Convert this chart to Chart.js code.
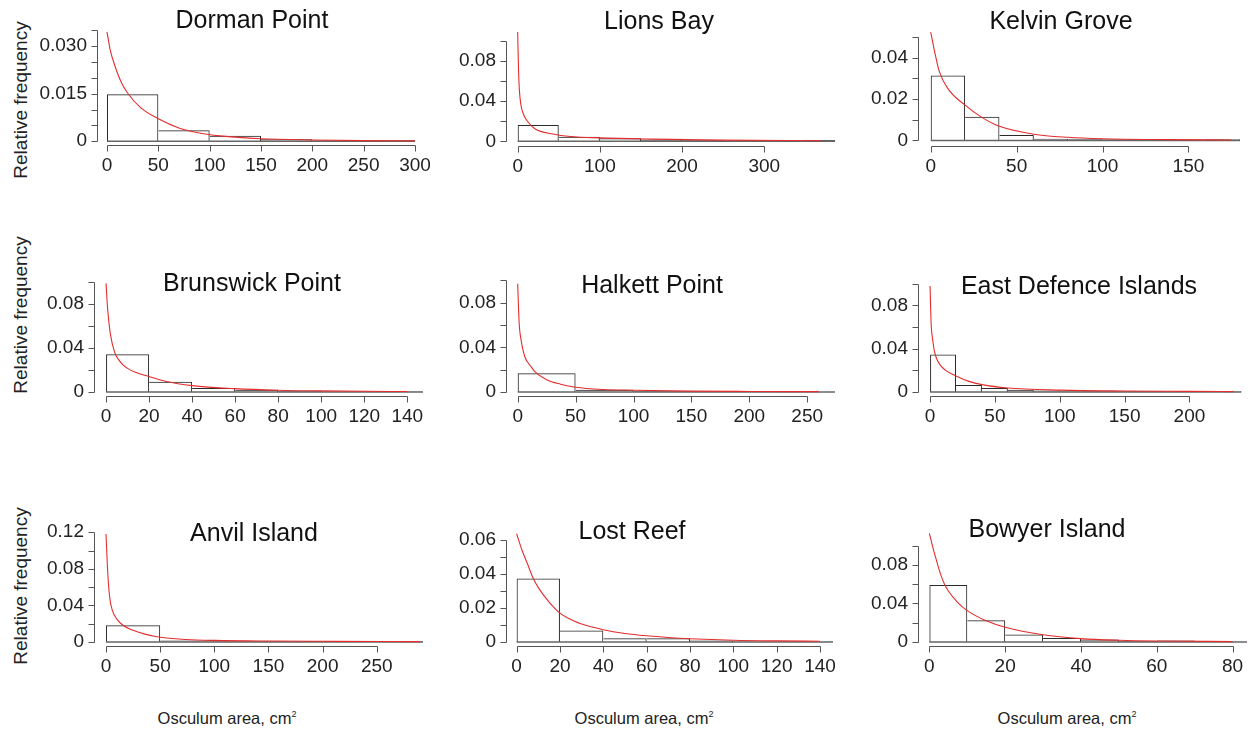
<!DOCTYPE html>
<html>
<head>
<meta charset="utf-8">
<script src="https://cdn.jsdelivr.net/npm/chart.js@4/dist/chart.umd.min.js"></script>
<style>
  body { margin: 0; width: 1255px; height: 733px; position: relative; background: #fff; overflow: hidden;
         font-family: "Liberation Sans", Arial, Helvetica, sans-serif; color: #111; }
  canvas { position: absolute; }
  .title { position: absolute; font-size: 25px; line-height: 25px; transform: translateX(-50%); white-space: nowrap; }
  .ylab { position: absolute; font-size: 19px; line-height: 19px; transform: translate(-50%, -50%) rotate(-90deg); white-space: nowrap; color: #222; }
  .xlab { position: absolute; font-size: 16.5px; line-height: 17px; transform: translateX(-50%); white-space: nowrap; color: #222; }
  .xlab sup { font-size: 9px; vertical-align: 7px; line-height: 0; }
</style>
</head>
<body>
<script>
// Histogram bins (edges), relative frequencies and fitted curve.
const dormanEdges = [0, 50, 100, 150, 200, 250, 300];
const dormanFreq = [0.0148, 0.0035, 0.0017, 0.0006, 0.0002, 0.0003];
const dormanCurveX = [0, 3, 8, 14, 20, 33, 50, 70, 90, 110, 150, 200, 250, 300];
const dormanCurveY = [0.0345, 0.029, 0.0235, 0.0185, 0.0152, 0.0105, 0.0071, 0.0042, 0.0026, 0.0017, 0.0008, 0.0004, 0.0002, 0.0001];
const dormanXTicks = [0, 50, 100, 150, 200, 250, 300];
const dormanYTicks = [0, 0.005, 0.01, 0.015, 0.02, 0.025, 0.03, 0.035];
const dormanYLabels = ['0', '', '', '0.015', '', '', '0.030', ''];

const lionsEdges = [0, 50, 100, 150, 200, 250, 300, 350, 400];
const lionsFreq = [0.0163, 0.0045, 0.003, 0.0018, 0.0016, 0.001, 0.0005, 0.0012];
const lionsCurveX = [0, 1, 2, 4, 7, 11, 21, 43, 64, 100, 165, 246, 370];
const lionsCurveY = [0.109, 0.072, 0.052, 0.036, 0.027, 0.021, 0.0125, 0.0072, 0.0047, 0.0034, 0.0022, 0.0012, 0.0006];
const lionsXTicks = [0, 100, 200, 300];
const lionsYTicks = [0, 0.02, 0.04, 0.06, 0.08, 0.1];
const lionsYLabels = ['0', '', '0.04', '', '0.08', ''];

const kelvinEdges = [0, 20, 40, 60, 80, 100, 120, 140, 160, 180];
const kelvinFreq = [0.0314, 0.0114, 0.0026, 0.0008, 0.0008, 0.0006, 0.0006, 0.0002, 0.0006];
const kelvinCurveX = [0, 2, 5, 10, 20, 30, 40, 60, 80, 100, 140, 175];
const kelvinCurveY = [0.0523, 0.044, 0.0333, 0.025, 0.017, 0.011, 0.0068, 0.003, 0.0015, 0.0008, 0.0004, 0.0002];
const kelvinXTicks = [0, 50, 100, 150];
const kelvinYTicks = [0, 0.01, 0.02, 0.03, 0.04, 0.05];
const kelvinYLabels = ['0', '', '0.02', '', '0.04', ''];

const brunswickEdges = [0, 20, 40, 60, 80, 100, 120, 140, 160];
const brunswickFreq = [0.0343, 0.0094, 0.0037, 0.002, 0.0008, 0.0005, 0.0005, 0.0004];
const brunswickCurveX = [0, 0.5, 1, 2, 4, 6, 8, 10, 13, 20, 28, 40, 60, 80, 100, 120, 140];
const brunswickCurveY = [0.099, 0.082, 0.07, 0.053, 0.036, 0.029, 0.0245, 0.0215, 0.0185, 0.014, 0.0095, 0.0058, 0.003, 0.0016, 0.001, 0.0006, 0.0004];
const brunswickXTicks = [0, 20, 40, 60, 80, 100, 120, 140];
const brunswickYTicks = [0, 0.02, 0.04, 0.06, 0.08, 0.1];
const brunswickYLabels = ['0', '', '0.04', '', '0.08', ''];

const halkettEdges = [0, 50, 100, 150, 200, 250, 300];
const halkettFreq = [0.0169, 0.002, 0.0008, 0.0003, 0.0003, 0.0002];
const halkettCurveX = [0, 1.2, 3, 6, 12, 15, 25, 37, 50, 74, 100, 150, 200, 260];
const halkettCurveY = [0.097, 0.063, 0.046, 0.032, 0.022, 0.018, 0.011, 0.007, 0.0042, 0.0022, 0.0016, 0.0008, 0.0005, 0.0003];
const halkettXTicks = [0, 50, 100, 150, 200, 250];
const halkettYTicks = [0, 0.02, 0.04, 0.06, 0.08, 0.1];
const halkettYLabels = ['0', '', '0.04', '', '0.08', ''];

const eastEdges = [0, 20, 40, 60, 80, 100, 120, 140, 160, 180, 200, 220, 240];
const eastFreq = [0.0347, 0.0065, 0.0037, 0.002, 0.0014, 0.0014, 0.0006, 0.0006, 0.0006, 0.0003, 0.0001, 0.0008];
const eastCurveX = [0, 0.8, 2, 3.3, 5, 7.7, 12, 20, 30, 40, 60, 100, 150, 200, 234];
const eastCurveY = [0.098, 0.064, 0.0486, 0.038, 0.031, 0.025, 0.02, 0.0148, 0.0098, 0.0068, 0.0037, 0.0017, 0.0009, 0.0006, 0.0003];
const eastXTicks = [0, 50, 100, 150, 200];
const eastYTicks = [0, 0.02, 0.04, 0.06, 0.08, 0.1];
const eastYLabels = ['0', '', '0.04', '', '0.08', ''];

const anvilEdges = [0, 50, 100, 150, 200, 250, 300];
const anvilFreq = [0.0182, 0.0017, 0.0007, 0.0007, 0.0001, 0.0007];
const anvilCurveX = [0, 1, 2, 3.7, 6, 10, 16, 31, 50, 74, 100, 150, 210, 290];
const anvilCurveY = [0.118, 0.09, 0.068, 0.046, 0.034, 0.025, 0.018, 0.0103, 0.0051, 0.0027, 0.0017, 0.001, 0.0007, 0.0004];
const anvilXTicks = [0, 50, 100, 150, 200, 250];
const anvilYTicks = [0, 0.02, 0.04, 0.06, 0.08, 0.1, 0.12];
const anvilYLabels = ['0', '', '0.04', '', '0.08', '', '0.12'];

const lostEdges = [0, 20, 40, 60, 80, 100, 120, 140, 160];
const lostFreq = [0.0373, 0.0068, 0.0022, 0.0022, 0.0009, 0.0002, 0.0002, 0.0002];
const lostCurveX = [0, 2.5, 5, 7.7, 10, 15, 20, 25, 30, 40, 50, 60, 70, 80, 100, 120, 140];
const lostCurveY = [0.0637, 0.054, 0.046, 0.0373, 0.032, 0.0235, 0.017, 0.0132, 0.0105, 0.0072, 0.005, 0.0036, 0.0026, 0.0019, 0.001, 0.0006, 0.0004];
const lostXTicks = [0, 20, 40, 60, 80, 100, 120, 140];
const lostYTicks = [0, 0.01, 0.02, 0.03, 0.04, 0.05, 0.06];
const lostYLabels = ['0', '', '0.02', '', '0.04', '', '0.06'];

const bowyerEdges = [0, 10, 20, 30, 40, 50, 60, 70, 80, 90];
const bowyerFreq = [0.0593, 0.0225, 0.0078, 0.0042, 0.0026, 0.001, 0.0016, 0.0003, 0.0002];
const bowyerCurveX = [0, 1, 2, 3, 4, 5, 7.5, 10, 15, 20, 30, 40, 50, 60, 80];
const bowyerCurveY = [0.113, 0.097, 0.083, 0.07, 0.06, 0.053, 0.041, 0.0326, 0.022, 0.0153, 0.0075, 0.0035, 0.0018, 0.001, 0.0004];
const bowyerXTicks = [0, 20, 40, 60, 80];
const bowyerYTicks = [0, 0.02, 0.04, 0.06, 0.08, 0.1];
const bowyerYLabels = ['0', '', '0.04', '', '0.08', ''];

const FONT = '"Liberation Sans", Arial, Helvetica, sans-serif';
const YW = 62, XH = 34, PT = 14, PR = 14;

// plot box = [left, top, right, bottom] of the drawing region; x/y = scale limits (R-style margins)
const panels = [
  { name: 'Dorman Point', edges: dormanEdges, freq: dormanFreq, cx: dormanCurveX, cy: dormanCurveY,
    xTicks: dormanXTicks, yTicks: dormanYTicks, yLabels: dormanYLabels,
    box: [97, 20, 427, 145], x: [-9.74, 311.7], y: [-0.00119, 0.0359], title: [252, 28] },
  { name: 'Lions Bay', edges: lionsEdges, freq: lionsFreq, cx: lionsCurveX, cy: lionsCurveY,
    xTicks: lionsXTicks, yTicks: lionsYTicks, yLabels: lionsYLabels,
    box: [506, 22, 835, 146], x: [-14.2, 386], y: [-0.0047, 0.1116], title: [659, 29] },
  { name: 'Kelvin Grove', edges: kelvinEdges, freq: kelvinFreq, cx: kelvinCurveX, cy: kelvinCurveY,
    xTicks: kelvinXTicks, yTicks: kelvinYTicks, yLabels: kelvinYLabels,
    box: [918, 22, 1240, 146], x: [-7.4, 180], y: [-0.0027, 0.0536], title: [1061, 29] },
  { name: 'Brunswick Point', edges: brunswickEdges, freq: brunswickFreq, cx: brunswickCurveX, cy: brunswickCurveY,
    xTicks: brunswickXTicks, yTicks: brunswickYTicks, yLabels: brunswickYLabels,
    box: [94, 272, 423, 396], x: [-5.6, 147.3], y: [-0.0037, 0.1026], title: [252, 291] },
  { name: 'Halkett Point', edges: halkettEdges, freq: halkettFreq, cx: halkettCurveX, cy: halkettCurveY,
    xTicks: halkettXTicks, yTicks: halkettYTicks, yLabels: halkettYLabels,
    box: [506, 270, 835, 396], x: [-10.1, 274], y: [-0.0036, 0.1027], title: [652, 293] },
  { name: 'East Defence Islands', edges: eastEdges, freq: eastFreq, cx: eastCurveX, cy: eastCurveY,
    xTicks: eastXTicks, yTicks: eastYTicks, yLabels: eastYLabels,
    box: [918, 272, 1243, 396], x: [-9.3, 241.3], y: [-0.0037, 0.104], title: [1079, 294] },
  { name: 'Anvil Island', edges: anvilEdges, freq: anvilFreq, cx: anvilCurveX, cy: anvilCurveY,
    xTicks: anvilXTicks, yTicks: anvilYTicks, yLabels: anvilYLabels,
    box: [94, 522, 423, 646], x: [-11.1, 292.7], y: [-0.0044, 0.1231], title: [254, 541] },
  { name: 'Lost Reef', edges: lostEdges, freq: lostFreq, cx: lostCurveX, cy: lostCurveY,
    xTicks: lostXTicks, yTicks: lostYTicks, yLabels: lostYLabels,
    box: [506, 524, 833, 646], x: [-4.9, 146], y: [-0.0024, 0.0651], title: [632, 539] },
  { name: 'Bowyer Island', edges: bowyerEdges, freq: bowyerFreq, cx: bowyerCurveX, cy: bowyerCurveY,
    xTicks: bowyerXTicks, yTicks: bowyerYTicks, yLabels: bowyerYLabels,
    box: [918, 523, 1247, 646], x: [-3.0, 83.8], y: [-0.0042, 0.116], title: [1047, 537] },
];

// R-style axes: line only from first to last tick, ticks pointing outward
const rAxes = {
  id: 'rAxes',
  afterDraw(chart) {
    const { ctx, chartArea, scales: { x, y } } = chart;
    ctx.save();
    ctx.strokeStyle = '#555';
    ctx.lineWidth = 1;
    ctx.beginPath();
    const xs = x.ticks.map((t) => Math.round(x.getPixelForValue(t.value)) + 0.5);
    const b = Math.round(chartArea.bottom) + 0.5;
    ctx.moveTo(xs[0], b);
    ctx.lineTo(xs[xs.length - 1], b);
    xs.forEach((px) => { ctx.moveTo(px, b); ctx.lineTo(px, b + 6); });
    const ys = y.ticks.map((t) => Math.round(y.getPixelForValue(t.value)) + 0.5);
    const l = Math.round(chartArea.left) + 0.5;
    ctx.moveTo(l, ys[0]);
    ctx.lineTo(l, ys[ys.length - 1]);
    ys.forEach((py) => { ctx.moveTo(l - 6, py); ctx.lineTo(l, py); });
    ctx.stroke();
    ctx.restore();
  },
};

// a shared bin edge is drawn once, by the taller of the two neighbouring bars
function barBorder(c) {
  const d = c.dataset.data;
  const i = c.dataIndex;
  const h = d[i].y;
  const prev = i > 0 ? d[i - 1].y : -1;
  const next = i < d.length - 1 ? d[i + 1].y : -1;
  return { top: 1, bottom: 0, left: h > prev ? 1 : 0, right: h >= next ? 1 : 0 };
}

function addText(cls, html, left, top) {
  const d = document.createElement('div');
  d.className = cls;
  d.innerHTML = html;
  d.style.left = left + 'px';
  d.style.top = top + 'px';
  document.body.appendChild(d);
}

panels.forEach((p) => {
  const [L, T, R, B] = p.box;
  const cv = document.createElement('canvas');
  const w = R - L + YW + PR;
  const h = B - T + PT + XH;
  cv.width = w;
  cv.height = h;
  cv.style.left = (L - YW) + 'px';
  cv.style.top = (T - PT) + 'px';
  cv.style.width = w + 'px';
  cv.style.height = h + 'px';
  document.body.appendChild(cv);

  const bars = p.freq.map((f, i) => ({ x: (p.edges[i] + p.edges[i + 1]) / 2, y: f }));
  const curve = p.cx.map((v, i) => ({ x: v, y: p.cy[i] }));
  const base = [{ x: p.edges[0], y: 0 }, { x: p.edges[p.edges.length - 1], y: 0 }];
  const tickFont = { family: FONT, size: 19 };

  new Chart(cv.getContext('2d'), {
    type: 'bar',
    data: {
      datasets: [
        {
          type: 'line', data: curve, borderColor: 'rgb(228,45,45)', borderWidth: 1.1,
          pointRadius: 0, cubicInterpolationMode: 'monotone', order: 0,
        },
        {
          type: 'line', data: base, borderColor: '#666', borderWidth: 1.5, pointRadius: 0, order: 1,
        },
        {
          data: bars, backgroundColor: 'rgba(255,255,255,0)', borderColor: '#2a2a2a',
          borderWidth: barBorder, borderSkipped: false,
          barPercentage: 1, categoryPercentage: 1, inflateAmount: 0, order: 2,
        },
      ],
    },
    options: {
      responsive: false,
      animation: false,
      devicePixelRatio: 1,
      layout: { padding: { top: PT, right: PR, left: 0, bottom: 0 } },
      plugins: { legend: { display: false }, tooltip: { enabled: false } },
      scales: {
        x: {
          type: 'linear', min: p.x[0], max: p.x[1], offset: false,
          grid: { display: false, drawTicks: false }, border: { display: false },
          afterBuildTicks: (s) => { s.ticks = p.xTicks.map((v) => ({ value: v })); },
          afterFit: (s) => { s.height = XH; },
          ticks: { autoSkip: false, maxRotation: 0, padding: 9, color: '#222', font: tickFont,
                   callback: (v) => String(v) },
        },
        y: {
          type: 'linear', min: p.y[0], max: p.y[1],
          grid: { display: false, drawTicks: false }, border: { display: false },
          afterBuildTicks: (s) => { s.ticks = p.yTicks.map((v) => ({ value: v })); },
          afterFit: (s) => { s.width = YW; },
          ticks: { autoSkip: false, padding: 10, color: '#222', font: tickFont,
                   callback: (v, i) => p.yLabels[i] },
        },
      },
    },
    plugins: [rAxes],
  });

  addText('title', p.name, p.title[0], p.title[1] - 21);
});

// shared axis titles
[100, 315, 586].forEach((cy) => addText('ylab', 'Relative frequency', 20, cy));
[227, 644, 1067].forEach((cx) => addText('xlab', 'Osculum area, cm<sup>2</sup>', cx, 710));
</script>
</body>
</html>
